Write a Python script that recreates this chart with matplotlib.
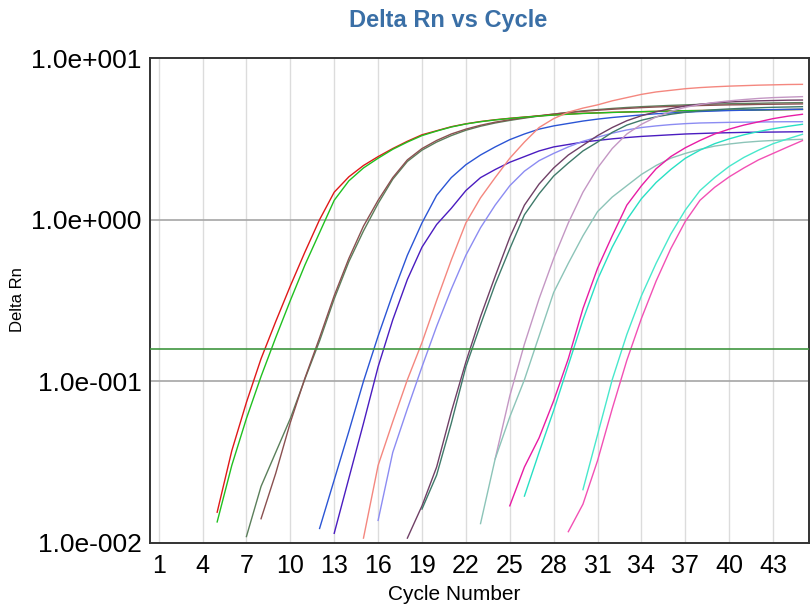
import matplotlib
matplotlib.use("Agg")
import matplotlib.pyplot as plt
from matplotlib.ticker import FixedLocator, NullLocator

# ---------------- data (Delta Rn per cycle) ----------------
red_start = 5
red = [0.0155, 0.0372, 0.0741, 0.138, 0.234, 0.389, 0.631, 1.000, 1.479, 1.841,
       2.163, 2.455, 2.754, 3.055, 3.350, 3.548, 3.758, 3.917, 4.046, 4.150,
       4.236, 4.315, 4.385, 4.446, 4.498, 4.550, 4.581, 4.613, 4.634, 4.656,
       4.677, 4.699, 4.721, 4.732, 4.742, 4.753, 4.764, 4.775, 4.786, 4.797, 4.808]

green_start = 5
green = [0.0135, 0.0302, 0.0589, 0.1072, 0.1862, 0.3162, 0.5248, 0.8318, 1.318, 1.738,
         2.089, 2.399, 2.723, 3.020, 3.311, 3.532, 3.741, 3.908, 4.036, 4.140,
         4.227, 4.305, 4.375, 4.436, 4.487, 4.539, 4.571, 4.603, 4.634, 4.656,
         4.677, 4.699, 4.721, 4.732, 4.742, 4.753, 4.764, 4.775, 4.786, 4.797, 4.808]

graygreen_start = 7
graygreen = [0.01096, 0.02239, 0.03631, 0.05888, 0.1035, 0.1778, 0.3236, 0.5495, 0.8511, 1.259,
             1.778, 2.291, 2.692, 3.020, 3.311, 3.573, 3.784, 3.963, 4.111, 4.246,
             4.375, 4.498, 4.613, 4.710, 4.797, 4.875, 4.943, 5.000, 5.047, 5.093,
             5.129, 5.164, 5.188, 5.212, 5.236, 5.248, 5.272, 5.284, 5.297]

brown_start = 8
brown = [0.01413, 0.02692, 0.05559, 0.1047, 0.1862, 0.3388, 0.5754, 0.912, 1.318,
         1.820, 2.344, 2.754, 3.090, 3.388, 3.631, 3.837, 4.009, 4.150, 4.276,
         4.395, 4.498, 4.592, 4.677, 4.753, 4.819, 4.875, 4.932, 4.977, 5.012,
         5.047, 5.082, 5.105, 5.129, 5.140, 5.164, 5.176, 5.188, 5.200]

blue_start = 12
blue = [0.0123, 0.02455, 0.04898, 0.1000, 0.1905, 0.3467, 0.6026, 0.955, 1.413, 1.820,
        2.188, 2.512, 2.818, 3.126, 3.388, 3.631, 3.802, 3.936, 4.074, 4.188,
        4.285, 4.365, 4.446, 4.519, 4.571, 4.624, 4.667, 4.699, 4.732, 4.753,
        4.775, 4.797, 4.808, 4.819]

indigo_start = 13
indigo = [0.01148, 0.02512, 0.05495, 0.123, 0.2399, 0.4266, 0.6761, 0.9333, 1.175, 1.514,
          1.820, 2.042, 2.265, 2.455, 2.661, 2.818, 2.917, 3.020, 3.090, 3.162,
          3.221, 3.273, 3.311, 3.350, 3.388, 3.412, 3.436, 3.451, 3.467, 3.475,
          3.483, 3.491, 3.499]

salmon_start = 15
salmon = [0.01072, 0.0302, 0.05623, 0.1023, 0.1738, 0.3162, 0.5623, 0.955, 1.365, 1.820,
          2.399, 3.020, 3.715, 4.217, 4.624, 4.898, 5.129, 5.433, 5.689, 5.957,
          6.166, 6.310, 6.457, 6.561, 6.637, 6.699, 6.745, 6.792, 6.823, 6.855, 6.871]

lavender_start = 16
lavender = [0.0138, 0.03631, 0.06761, 0.123, 0.2188, 0.3715, 0.6026, 0.8913, 1.230, 1.622,
            1.995, 2.317, 2.570, 2.818, 3.055, 3.236, 3.428, 3.589, 3.715, 3.802,
            3.873, 3.926, 3.963, 3.981, 3.999, 4.009, 4.018, 4.027, 4.036, 4.036]

purple_start = 18
purple = [0.01072, 0.01698, 0.02951, 0.06457, 0.1318, 0.2512, 0.4467, 0.7762, 1.230, 1.660,
          2.089, 2.512, 2.884, 3.311, 3.715, 4.093, 4.395, 4.645, 4.864, 5.047,
          5.176, 5.272, 5.346, 5.395, 5.433, 5.458, 5.483, 5.495]

darkteal_start = 19
darkteal = [0.01622, 0.0263, 0.05495, 0.123, 0.2239, 0.3981, 0.6607, 1.072, 1.445, 1.862,
            2.239, 2.661, 3.020, 3.467, 3.846, 4.121, 4.325, 4.487, 4.613, 4.710,
            4.786, 4.842, 4.887, 4.920, 4.955, 4.977, 5.000]

plum_start = 24
plum = [0.03311, 0.08128, 0.1698, 0.3236, 0.5754, 0.955, 1.479, 2.089, 2.754, 3.388,
        3.890, 4.315, 4.677, 4.955, 5.152, 5.309, 5.433, 5.534, 5.623, 5.689,
        5.728, 5.768]

paleteal_start = 23
paleteal = [0.01318, 0.03311, 0.06026, 0.1023, 0.1905, 0.3548, 0.537, 0.7943, 1.122, 1.380,
            1.622, 1.905, 2.163, 2.399, 2.570, 2.723, 2.851, 2.938, 3.006, 3.055,
            3.090, 3.119, 3.141]

magenta_start = 25
magenta = [0.01698, 0.02951, 0.04467, 0.07586, 0.138, 0.2818, 0.5012, 0.7943, 1.230, 1.622,
           2.065, 2.455, 2.786, 3.090, 3.388, 3.631, 3.846, 4.027, 4.217, 4.365, 4.487]

turq_start = 26
turq = [0.0195, 0.03631, 0.06607, 0.1259, 0.2399, 0.4266, 0.6761, 1.000, 1.349, 1.698,
        2.042, 2.399, 2.692, 2.951, 3.162, 3.350, 3.508, 3.648, 3.776, 3.890]

turq2_start = 30
turq2 = [0.02138, 0.04677, 0.1023, 0.195, 0.3388, 0.537, 0.8128, 1.148, 1.514, 1.820,
         2.138, 2.427, 2.692, 2.951, 3.162, 3.373]

pink_start = 29
pink = [0.01175, 0.01738, 0.03236, 0.06761, 0.1349, 0.2455, 0.4169, 0.6607, 0.9772, 1.318,
        1.585, 1.841, 2.089, 2.344, 2.570, 2.818, 3.083]

threshold = 0.1576

x_ticks = [1, 4, 7, 10, 13, 16, 19, 22, 25, 28, 31, 34, 37, 40, 43]
y_ticks = [0.01, 0.1, 1.0, 10.0]
y_tick_labels = ["1.0e-002", "1.0e-001", "1.0e+000", "1.0e+001"]

series = [
    (graygreen_start, graygreen, "#5b7f5b"),
    (brown_start, brown, "#8a5050"),
    (red_start, red, "#e01818"),
    (green_start, green, "#20c020"),
    (blue_start, blue, "#2b55d5"),
    (indigo_start, indigo, "#4a1cc0"),
    (salmon_start, salmon, "#f4877f"),
    (lavender_start, lavender, "#8c8cf2"),
    (purple_start, purple, "#704066"),
    (darkteal_start, darkteal, "#3f7a6a"),
    (plum_start, plum, "#c497c4"),
    (paleteal_start, paleteal, "#8cc4b8"),
    (magenta_start, magenta, "#e81ca4"),
    (turq_start, turq, "#28e0c4"),
    (turq2_start, turq2, "#48e8cc"),
    (pink_start, pink, "#f250b4"),
]

FONT = ["Liberation Sans", "DejaVu Sans"]

# ---------------- figure ----------------
fig = plt.figure(figsize=(8.1, 6.06), dpi=100)
ax = fig.add_axes([150/810, 1-543/606, 659/810, 485/606])
ax.set_yscale("log")
ax.set_xlim(0.41, 45.45)
ax.set_ylim(0.01, 10)

for xv in x_ticks:
    ax.axvline(xv, color="#dcdcdc", lw=1.0, zorder=0)
for yv in [0.1, 1.0]:
    ax.axhline(yv, color="#a6a6a6", lw=1.2, zorder=0.5)

for start, vals, col in series:
    cycles = list(range(start, start + len(vals)))
    ax.plot(cycles, vals, color=col, lw=1.0, zorder=2)

ax.axhline(threshold, color="#3f963f", lw=1.2, zorder=3)

ax.yaxis.set_major_locator(FixedLocator(y_ticks))
ax.yaxis.set_minor_locator(NullLocator())
ax.set_yticklabels(y_tick_labels)
ax.set_xticks(x_ticks)
ax.set_xticklabels([str(v) for v in x_ticks])
ax.tick_params(axis="both", length=0)
ax.tick_params(axis="y", pad=6)
ax.tick_params(axis="x", pad=8)
for lab in ax.get_yticklabels():
    lab.set_fontfamily(FONT)
    lab.set_fontsize(19)
for lab in ax.get_xticklabels():
    lab.set_fontfamily(FONT)
    lab.set_fontsize(18)

for s in ax.spines.values():
    s.set_color("#333333")
    s.set_linewidth(1.4)

fig.text(448/810, 1-21/606, "Delta Rn vs Cycle", ha="center", va="center",
         fontsize=17, fontweight="bold", color="#3a6fa6", family=FONT)
fig.text(17/810, 1-300/606, "Delta Rn", rotation=90, ha="center", va="center",
         fontsize=12, family=FONT)
fig.text(454/810, 1-595/606, "Cycle Number", ha="center", va="center",
         fontsize=15, family=FONT)

fig.savefig("out.png", dpi=100)
